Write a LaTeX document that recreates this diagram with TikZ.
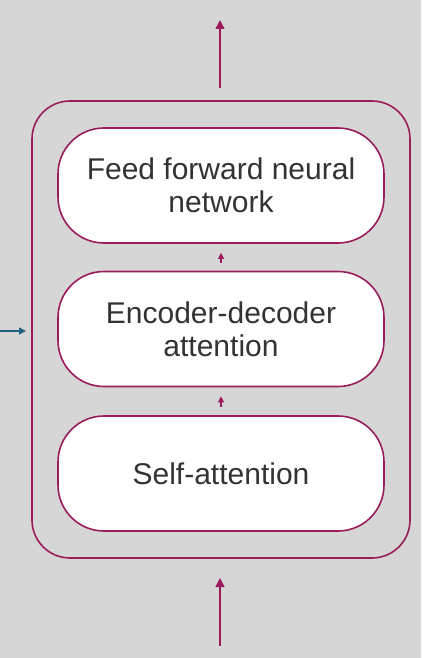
\documentclass[tikz,border=0pt]{standalone}
\usepackage{fontspec}
\setmainfont{Liberation Sans}
\usetikzlibrary{positioning}
\usetikzlibrary{arrows.meta}
\usetikzlibrary{calc}

\definecolor{bggray}{HTML}{D6D6D6}
\definecolor{plum}{HTML}{9A1C5C}
\definecolor{teal}{HTML}{235F7E}
\definecolor{txtgray}{HTML}{333333}

\tikzset{
    layer/.style={draw=plum, line width=1.6pt, fill=white, rounded corners=46pt,
        minimum width=326pt, minimum height=115pt, align=center, text=txtgray,
        font=\fontsize{30}{33}\selectfont},
    flow/.style={draw=plum, line width=1.6pt, -{Triangle[width=9pt,length=9pt]}},
    step arrow/.style={draw=plum, line width=1.2pt, -{Triangle[width=6pt,length=6pt]},
        shorten <=8pt, shorten >=9pt}
}

\begin{document}
\begin{tikzpicture}[x=1pt,y=-1pt]
                \fill[bggray] (0,0) rectangle (421,658);
                \useasboundingbox (0,0) rectangle (421,658);

                % Define the decoder block and its layers
                \node[draw=plum, line width=1.6pt, rounded corners=38pt,
                      minimum width=378pt, minimum height=457pt] (block) at (221,329.5) {};
                \node[layer] (ffn) at (221,185.5) {Feed forward neural\\network};
                \node[layer] (encdec) at (221,329) {Encoder-decoder\\attention};
                \node[layer] (self) at (221,473.5) {Self-attention};

                % Define the free ends of the arrows
                \coordinate (out) at (220,20);
                \coordinate (outstart) at (220,88);
                \coordinate (in) at (220,646);
                \coordinate (inend) at (220,578);
                \coordinate (enc) at (0,331);
                \coordinate (encend) at (26,331);

                \draw[flow] (outstart) -- (out);
                \draw[flow] (in) -- (inend);
                \draw[step arrow] (self.north) -- (encdec.south);
                \draw[step arrow] (encdec.north) -- (ffn.south);
                \draw[teal, line width=1.4pt, -{Triangle[width=7pt,length=7pt]}] (enc) -- (encend);

            \end{tikzpicture}
\end{document}
